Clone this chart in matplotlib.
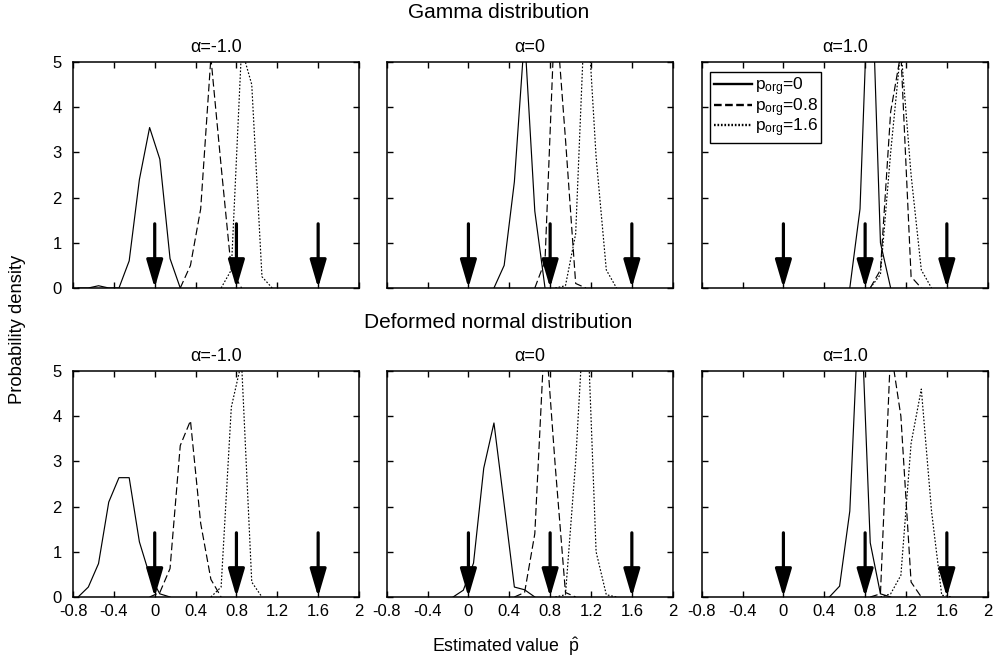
import numpy as np
import matplotlib
matplotlib.use('Agg')
import matplotlib.pyplot as plt

plt.rcParams['font.family'] = ['Liberation Sans', 'DejaVu Sans']
plt.rcParams['mathtext.fontset'] = 'custom'
plt.rcParams['mathtext.rm'] = 'Liberation Sans'
plt.rcParams['mathtext.it'] = 'Liberation Sans:italic'
plt.rcParams['lines.scale_dashes'] = False

###DATA (bin centres and estimated densities)
alphas = ['α=-1.0', 'α=0', 'α=1.0']
p_org = [0, 0.8, 1.6]
labels = [r'p$_{\mathrm{org}}$=0', r'p$_{\mathrm{org}}$=0.8', r'p$_{\mathrm{org}}$=1.6']
row_titles = ['Gamma distribution', 'Deformed normal distribution']
xticks = [-0.8, -0.4, 0, 0.4, 0.8, 1.2, 1.6, 2]
xticklabels = ['-0.8', '-0.4', '0', '0.4', '0.8', '1.2', '1.6', '2']
yticks = [0, 1, 2, 3, 4, 5]

# gamma, alpha=-1.0
g1_x0 = [-0.75, -0.65, -0.55, -0.45, -0.35, -0.25, -0.15, -0.05, 0.05, 0.15, 0.25]
g1_y0 = [0, 0, 0.05, 0, 0, 0.6, 2.4, 3.55, 2.85, 0.65, 0]
g1_x1 = [0.25, 0.35, 0.45, 0.55, 0.65, 0.75, 0.85]
g1_y1 = [0, 0.5, 1.75, 5.1, 2.7, 0.4, 0]
g1_x2 = [0.65, 0.75, 0.85, 0.95, 1.05, 1.15]
g1_y2 = [0, 0.4, 5.3, 4.5, 0.25, 0]
# gamma, alpha=0
g2_x0 = [0.25, 0.35, 0.45, 0.55, 0.65, 0.75]
g2_y0 = [0, 0.5, 2.35, 5.6, 1.7, 0]
g2_x1 = [0.65, 0.75, 0.85, 0.95, 1.05, 1.15]
g2_y1 = [0, 0.6, 6.3, 3.3, 0.1, 0]
g2_x2 = [0.85, 0.95, 1.05, 1.15, 1.25, 1.35, 1.45]
g2_y2 = [0, 0.05, 1.2, 6.7, 2.9, 0.4, 0]
# gamma, alpha=1.0
g3_x0 = [0.65, 0.75, 0.85, 0.95, 1.05]
g3_y0 = [0, 1.75, 8.0, 1.0, 0]
g3_x1 = [0.85, 0.95, 1.05, 1.15, 1.25, 1.35]
g3_y1 = [0, 0.4, 3.9, 5.2, 0.25, 0]
g3_x2 = [0.85, 0.95, 1.05, 1.15, 1.25, 1.35, 1.45]
g3_y2 = [0, 0.3, 3.0, 5.3, 2.5, 0.4, 0]
# deformed normal, alpha=-1.0
d1_x0 = [-0.75, -0.65, -0.55, -0.45, -0.35, -0.25, -0.15, -0.05, 0.05, 0.15]
d1_y0 = [0, 0.22, 0.74, 2.1, 2.64, 2.64, 1.22, 0.48, 0.07, 0]
d1_x1 = [-0.05, 0.05, 0.15, 0.25, 0.35, 0.45, 0.55, 0.65]
d1_y1 = [0, 0.1, 0.63, 3.35, 3.9, 1.63, 0.39, 0]
d1_x2 = [0.55, 0.65, 0.75, 0.85, 0.95, 1.05]
d1_y2 = [0, 0.22, 4.2, 5.2, 0.33, 0]
# deformed normal, alpha=0
d2_x0 = [-0.15, -0.05, 0.05, 0.15, 0.25, 0.35, 0.45, 0.55, 0.65]
d2_y0 = [0, 0.15, 0.75, 2.85, 3.85, 2.05, 0.22, 0.16, 0]
d2_x1 = [0.45, 0.55, 0.65, 0.75, 0.85, 0.95, 1.05]
d2_y1 = [0, 0.1, 1.4, 6.0, 2.9, 0.1, 0]
d2_x2 = [0.85, 0.95, 1.05, 1.15, 1.25, 1.35, 1.45]
d2_y2 = [0, 0.05, 3.0, 7.0, 1.0, 0.05, 0]
# deformed normal, alpha=1.0
d3_x0 = [0.45, 0.55, 0.65, 0.75, 0.85, 0.95, 1.05]
d3_y0 = [0, 0.24, 1.9, 7.0, 1.2, 0.07, 0]
d3_x1 = [0.85, 0.95, 1.05, 1.15, 1.25, 1.35]
d3_y1 = [0, 0.07, 5.5, 4.0, 0.33, 0]
d3_x2 = [0.95, 1.05, 1.15, 1.25, 1.35, 1.45, 1.55, 1.65]
d3_y2 = [0, 0.07, 0.48, 3.4, 4.6, 1.9, 0.04, 0]

panels = [
    [(g1_x0, g1_y0), (g1_x1, g1_y1), (g1_x2, g1_y2)],
    [(g2_x0, g2_y0), (g2_x1, g2_y1), (g2_x2, g2_y2)],
    [(g3_x0, g3_y0), (g3_x1, g3_y1), (g3_x2, g3_y2)],
    [(d1_x0, d1_y0), (d1_x1, d1_y1), (d1_x2, d1_y2)],
    [(d2_x0, d2_y0), (d2_x1, d2_y1), (d2_x2, d2_y2)],
    [(d3_x0, d3_y0), (d3_x1, d3_y1), (d3_x2, d3_y2)],
]
arrow_top = 1.42

###STYLES
line_styles = ['-', (0, (5.5, 2.5)), (0, (1.2, 1.3))]

fig = plt.figure(figsize=(9.97, 6.59), dpi=100)
lefts = [73 / 997, 386.7 / 997, 701.7 / 997]
bottoms = [1 - 288 / 659, 1 - 597 / 659]
w, h = 286 / 997, 226 / 659

for i, series in enumerate(panels):
    row, col = divmod(i, 3)
    ax = fig.add_axes([lefts[col], bottoms[row], w, h])
    for k, (xs, ys) in enumerate(series):
        ax.plot(xs, ys, color='black', lw=0.85, linestyle=line_styles[k], label=labels[k])
    for p in p_org:
        ax.annotate('', xy=(p, 0), xytext=(p, arrow_top),
                    arrowprops=dict(arrowstyle='-|>,head_width=0.5,head_length=1.7',
                                    mutation_scale=10, lw=2.3, color='black',
                                    shrinkA=0, shrinkB=0))
    ax.set_xlim(-0.8, 2.0)
    ax.set_ylim(0, 5)
    ax.set_xticks(xticks)
    ax.set_yticks(yticks)
    if row == 1:
        ax.set_xticklabels(xticklabels)
    else:
        ax.set_xticklabels([])
    if col != 0:
        ax.set_yticklabels([])
    ax.tick_params(direction='in', top=True, right=True, length=4.5, width=1,
                   labelsize=12)
    ax.tick_params(axis='x', pad=5)
    ax.tick_params(axis='y', pad=8)
    for s in ax.spines.values():
        s.set_linewidth(1.1)
    ax.set_title(alphas[col], fontsize=13, pad=7)
    if i == 2:
        leg = ax.legend(loc='upper left', bbox_to_anchor=(0.03, 0.955), borderaxespad=0,
                        fancybox=False, edgecolor='black', framealpha=1,
                        fontsize=12.5, handlelength=2.2, handletextpad=0.15,
                        labelspacing=-0.12, borderpad=0.2)
        leg.get_frame().set_linewidth(1.0)
        for ln in leg.get_lines():
            ln.set_linewidth(1.7)

fig.text(0.5, 1 - 13 / 659, row_titles[0], ha='center', va='center', fontsize=15)
fig.text(0.5, 1 - 323 / 659, row_titles[1], ha='center', va='center', fontsize=15)
fig.text(0.018, 0.5, 'Probability density', rotation=90, ha='center', va='center', fontsize=13.2)
fig.text(0.507, 1 - 652 / 659, r'Estimated value  $\hat{\mathrm{p}}$', ha='center', va='baseline',
         fontsize=12.8)

fig.savefig('out.png', dpi=100)
